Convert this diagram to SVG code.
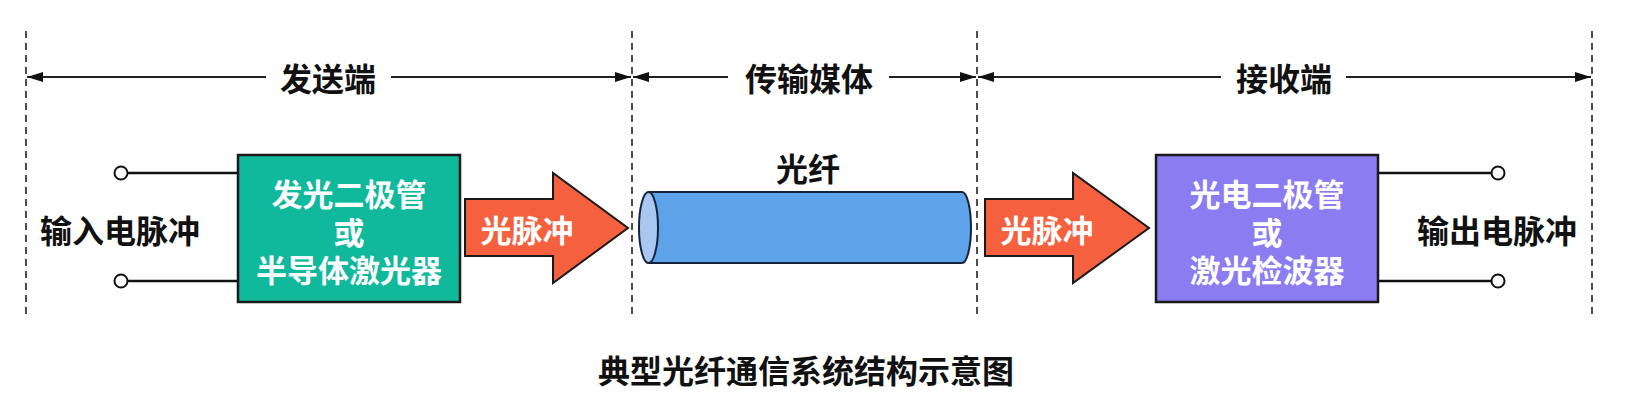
<svg xmlns="http://www.w3.org/2000/svg" width="1631" height="400" viewBox="0 0 1631 400">
<defs>
<style>
.t{font-family:"Noto Sans CJK SC","Noto Sans",sans-serif;font-weight:bold;font-size:32px;text-anchor:middle;dominant-baseline:central;fill:#111}
.w{fill:#fff}
.b{font-size:31px}
.dash{stroke:#222;stroke-width:1.6;stroke-dasharray:7 5;fill:none}
.dim{stroke:#222;stroke-width:2.2;fill:none}
.wire{stroke:#111;stroke-width:2.5;fill:none}
.term{fill:#fff;stroke:#111;stroke-width:2}
.box{stroke:#1a1a1a;stroke-width:2.5}
.arrow{fill:#f5603f;stroke:#1a1a1a;stroke-width:2}
</style>
<marker id="ah" viewBox="0 0 16 10" refX="16" refY="5" markerWidth="16" markerHeight="10" markerUnits="userSpaceOnUse" orient="auto-start-reverse">
<path d="M0,0 L16,5 L0,10 Z" fill="#111"/>
</marker>
</defs>
<rect width="1631" height="400" fill="#fff"/>

<g id="boundaries">
<line class="dash" x1="26" y1="31" x2="26" y2="314"/>
<line class="dash" x1="632" y1="31" x2="632" y2="314"/>
<line class="dash" x1="977" y1="31" x2="977" y2="314"/>
<line class="dash" x1="1592" y1="31" x2="1592" y2="314"/>
</g>

<g id="connectors">
<line class="dim" x1="266" y1="77" x2="27" y2="77" marker-end="url(#ah)"/>
<line class="dim" x1="391" y1="77" x2="631" y2="77" marker-end="url(#ah)"/>
<line class="dim" x1="728" y1="77" x2="633" y2="77" marker-end="url(#ah)"/>
<line class="dim" x1="889" y1="77" x2="976" y2="77" marker-end="url(#ah)"/>
<line class="dim" x1="1221" y1="77" x2="978" y2="77" marker-end="url(#ah)"/>
<line class="dim" x1="1346" y1="77" x2="1591" y2="77" marker-end="url(#ah)"/>
<line class="wire" x1="128" y1="173" x2="238" y2="173"/>
<line class="wire" x1="128" y1="281" x2="238" y2="281"/>
<line class="wire" x1="1378" y1="173" x2="1491" y2="173"/>
<line class="wire" x1="1378" y1="281" x2="1491" y2="281"/>
</g>

<g id="section-labels">
<text class="t" x="328" y="77">发送端</text>
<text class="t" x="809" y="77">传输媒体</text>
<text class="t" x="1284" y="77">接收端</text>
</g>

<g id="input">
<circle class="term" cx="121" cy="173" r="6.5"/>
<circle class="term" cx="121" cy="281" r="6.5"/>
<text class="t" x="120" y="229">输入电脉冲</text>
</g>

<g id="transmitter">
<rect class="box" x="238" y="155" width="222" height="147" fill="#10b99b"/>
<text class="t w b"><tspan x="349" y="192">发光二极管</tspan><tspan x="349" y="230">或</tspan><tspan x="349" y="268">半导体激光器</tspan></text>
</g>

<g id="pulse1">
<path class="arrow" d="M465,199 L553,199 L553,173 L628,228 L553,283 L553,256 L465,256 Z"/>
<text class="t w" x="527" y="228" style="font-size:31px">光脉冲</text>
</g>

<g id="fiber">
<path d="M648.5,192 L962,192 A9,35.5 0 0 1 962,263 L648.5,263 Z" fill="#5ea2ea" stroke="#15233a" stroke-width="2"/>
<ellipse cx="648.5" cy="227.5" rx="9.5" ry="35.5" fill="#a8c8f2" stroke="#15233a" stroke-width="2"/>
<text class="t" x="808" y="167">光纤</text>
</g>

<g id="pulse2">
<path class="arrow" d="M985,199 L1073,199 L1073,173 L1149,228 L1073,283 L1073,256 L985,256 Z"/>
<text class="t w" x="1047" y="228" style="font-size:31px">光脉冲</text>
</g>

<g id="receiver">
<rect class="box" x="1156" y="155" width="222" height="147" fill="#8b7cf2"/>
<text class="t w b"><tspan x="1267" y="192">光电二极管</tspan><tspan x="1267" y="230">或</tspan><tspan x="1267" y="268">激光检波器</tspan></text>
</g>

<g id="output">
<circle class="term" cx="1498" cy="173" r="6.5"/>
<circle class="term" cx="1498" cy="281" r="6.5"/>
<text class="t" x="1497" y="229">输出电脉冲</text>
</g>

<g id="caption">
<text class="t" x="806" y="369">典型光纤通信系统结构示意图</text>
</g>
</svg>
